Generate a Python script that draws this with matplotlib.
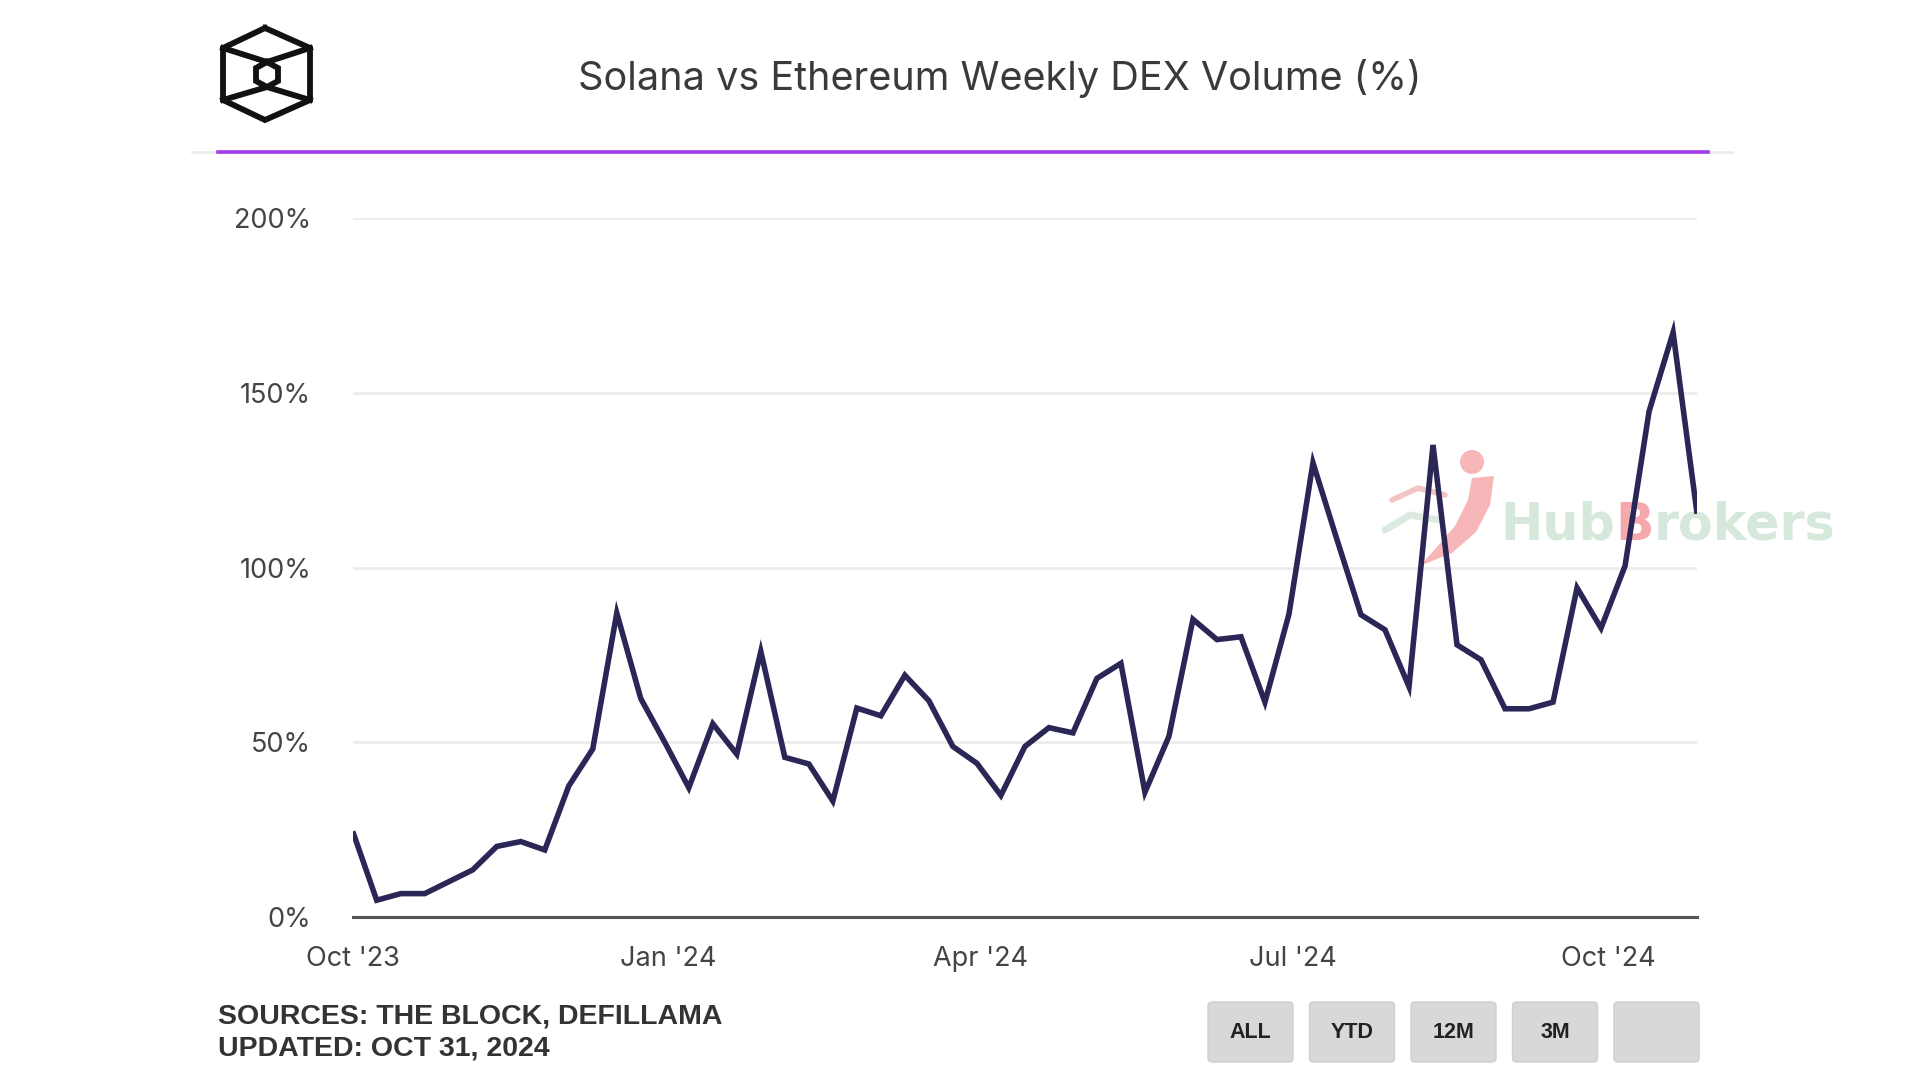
import pandas as pd
import matplotlib.pyplot as plt
from matplotlib.patches import FancyBboxPatch, Circle, Polygon

# weekly Solana / Ethereum DEX volume ratio
weeks = pd.date_range("2023-10-01", periods=57, freq="7D")
ratio_pct = [24.5, 4.8, 6.7, 6.7, 10.1, 13.5, 20.2, 21.6, 19.2, 37.5,
             48.1, 87.0, 62.5, 50.0, 37.0, 55.3, 46.6, 76.0, 45.7, 43.8,
             33.2, 59.8, 57.6, 69.2, 61.9, 48.8, 44.0, 34.8, 48.8, 54.2,
             52.7, 68.3, 72.6, 35.7, 51.7, 85.2, 79.4, 80.2, 61.5, 86.7,
             130.0, 108.0, 86.5, 82.2, 65.9, 135.1, 77.9, 73.6, 59.6, 59.6,
             61.5, 94.2, 82.7, 100.5, 144.7, 167.3, 115.4]

y_ticks = [0, 50, 100, 150, 200]
x_tick_dates = pd.to_datetime(["2023-10-01", "2024-01-01", "2024-04-01",
                               "2024-07-01", "2024-10-01"])
x_tick_labels = ["Oct '23", "Jan '24", "Apr '24", "Jul '24", "Oct '24"]
buttons = ["ALL", "YTD", "12M", "3M", ""]

title = "Solana vs Ethereum Weekly DEX Volume (%)"
source_lines = ["SOURCES: THE BLOCK, DEFILLAMA", "UPDATED: OCT 31, 2024"]
watermark = [("Hub", "#d6e8dc"), ("B", "#f5a9ac"), ("rokers", "#d6e8dc")]

fig = plt.figure(figsize=(19.2, 10.8), dpi=100)
fig.patch.set_facecolor("white")
r = fig.canvas.get_renderer()

# overlay in pixel coordinates for header / footer decorations
deco = fig.add_axes([0, 0, 1, 1], zorder=0)
deco.set_xlim(0, 1920)
deco.set_ylim(1080, 0)
deco.axis("off")

# logo (cube outline)
outer = [(265, 28), (310, 48), (310, 100), (265, 120), (223, 100), (223, 48), (265, 28)]
inner = [(267, 62), (278, 68), (278, 81), (267, 87), (256, 81), (256, 68), (267, 62)]
lw_logo = 4.2
deco.plot([p[0] for p in outer], [p[1] for p in outer], color="#111111", lw=lw_logo,
          solid_joinstyle="miter")
deco.plot([p[0] for p in inner], [p[1] for p in inner], color="#111111", lw=lw_logo,
          solid_joinstyle="miter")
deco.plot([223, 267, 310], [48, 62, 48], color="#111111", lw=lw_logo)
deco.plot([223, 267, 310], [100, 87, 100], color="#111111", lw=lw_logo)

# title + purple rule
deco.text(1000, 78, title, ha="center", va="center", fontsize=28.5,
          family="Inter", color="#3a3a3a")
deco.plot([192, 1732], [152, 152], color="#ececec", lw=2)
deco.plot([218, 1708], [152, 152], color="#a23cf0", lw=2.6)

# watermark
deco.add_patch(Circle((1472, 462), 12, color="#f7b6b8", lw=0))
deco.add_patch(Polygon([(1494, 476), (1490, 505), (1476, 532), (1452, 553), (1420, 566),
                        (1436, 548), (1455, 526), (1468, 500), (1472, 478)],
                       closed=True, color="#f7b6b8", lw=0))
deco.plot([1385, 1410, 1440], [530, 515, 520], color="#dbe9e0", lw=5, solid_capstyle="round")
deco.plot([1392, 1418, 1445], [500, 488, 495], color="#f4c4c5", lw=4, solid_capstyle="round")
wx = 1500
for part, col in watermark:
    t = deco.text(wx, 540, part, ha="left", va="baseline", fontsize=36.5,
                  fontweight="bold", family="DejaVu Sans", color=col)
    wx += t.get_window_extent(r).width

# footer: sources + range buttons
deco.text(218, 1017, source_lines[0], ha="left", va="center", fontsize=20.5,
          fontweight="bold", family="Liberation Sans", color="#333333")
deco.text(218, 1049, source_lines[1], ha="left", va="center", fontsize=20.5,
          fontweight="bold", family="Liberation Sans", color="#333333")
for i, lab in enumerate(buttons):
    x0 = 1208 + i * 101.5
    deco.add_patch(FancyBboxPatch((x0, 1002), 85, 60, boxstyle="round,pad=0,rounding_size=4",
                                  facecolor="#d8d8d8", edgecolor="#cfcfcf", lw=1))
    deco.text(x0 + 42.5, 1033, lab, ha="center", va="center", fontsize=15.5,
              fontweight="bold", family="Liberation Sans", color="#222222")

# main chart
ax = fig.add_axes([0.1837, 0.1509, 0.7002, 0.6471], zorder=1)
ax.set_facecolor("none")
ax.plot(weeks, ratio_pct, color="#2a2656", lw=4, solid_joinstyle="miter",
        solid_capstyle="butt", zorder=3)

ax.set_ylim(0, 200)
ax.set_xlim(weeks[0], weeks[-1])
ax.set_yticks(y_ticks)
ax.set_yticklabels([f"{v}%" for v in y_ticks])
ax.set_xticks(x_tick_dates)
ax.set_xticklabels(x_tick_labels)
ax.yaxis.grid(True, color="#ececec", lw=2)
ax.set_axisbelow(True)
for s in ["top", "right", "left"]:
    ax.spines[s].set_visible(False)
ax.spines["bottom"].set_color("#555555")
ax.spines["bottom"].set_linewidth(2.2)
ax.tick_params(axis="both", length=0, labelsize=19.5, labelcolor="#444444")
ax.tick_params(axis="y", pad=30)
ax.tick_params(axis="x", pad=21)
for t in ax.get_xticklabels() + ax.get_yticklabels():
    t.set_family("Inter")
    if t in ax.get_yticklabels():
        t.set_va("center_baseline")

fig.savefig("out.png", dpi=100, facecolor="white")
